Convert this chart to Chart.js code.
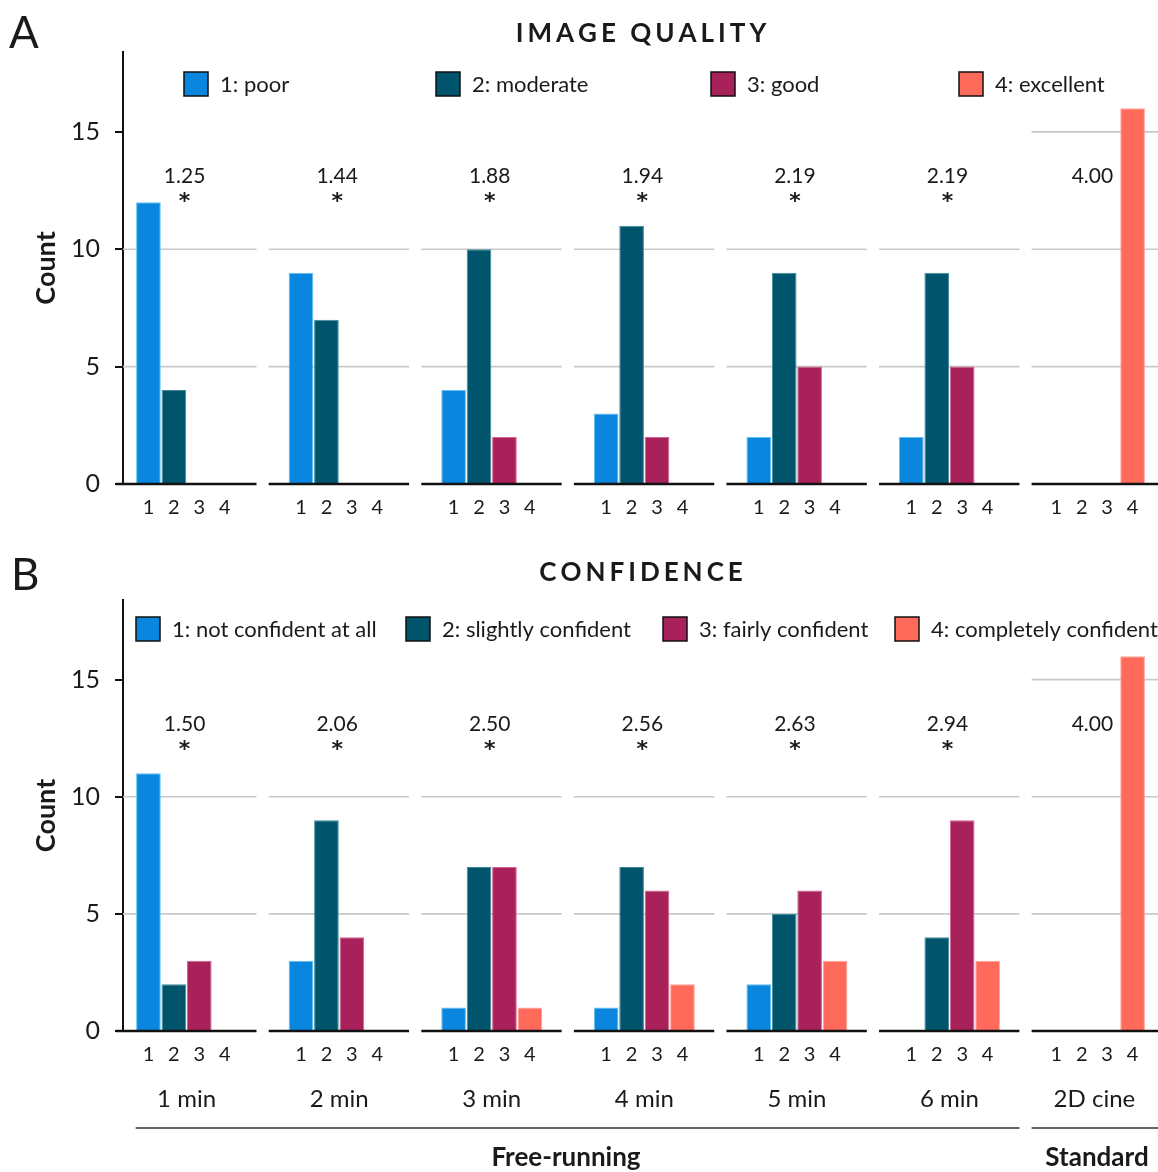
<!DOCTYPE html>
<html>
<head>
<meta charset="utf-8">
<script src="https://cdn.jsdelivr.net/npm/chart.js@4"></script>
<style>
  html, body { margin: 0; padding: 0; background: #fff; overflow: hidden; }
  canvas { position: absolute; left: 0; }
  #chartA { top: 0; }
  #chartB { top: 545px; }
</style>
</head>
<body>
<canvas id="chartA" width="1158" height="545"></canvas>
<canvas id="chartB" width="1158" height="627"></canvas>
<script>
// categories
const groups = ['1 min', '2 min', '3 min', '4 min', '5 min', '6 min', '2D cine'];
const ratingTicks = ['1', '2', '3', '4'];
const qualityLabels = ['1: poor', '2: moderate', '3: good', '4: excellent'];
const confidenceLabels = ['1: not confident at all', '2: slightly confident', '3: fairly confident', '4: completely confident'];

// image quality counts (per group)
const qualityPoor      = [12, 9, 4, 3, 2, 2, 0];
const qualityModerate  = [4, 7, 10, 11, 9, 9, 0];
const qualityGood      = [0, 0, 2, 2, 5, 5, 0];
const qualityExcellent = [0, 0, 0, 0, 0, 0, 16];
const qualityMeans     = ['1.25', '1.44', '1.88', '1.94', '2.19', '2.19', '4.00'];

// confidence counts (per group)
const confNone       = [11, 3, 1, 1, 2, 0, 0];
const confSlightly   = [2, 9, 7, 7, 5, 4, 0];
const confFairly     = [3, 4, 7, 6, 6, 9, 0];
const confCompletely = [0, 0, 1, 2, 3, 3, 16];
const confMeans      = ['1.50', '2.06', '2.50', '2.56', '2.63', '2.94', '4.00'];

const significant = [true, true, true, true, true, true, false];
const yTicks = [0, 5, 10, 15];

const colors = ['#0a86de', '#00546c', '#a8215a', '#ff6a5b'];
const edges  = ['#5fc2f2', '#3d8a9c', '#d0648d', '#ffa397'];
const FONT = 'Lato, "Open Sans", sans-serif';
const INK = '#1a1a1a';

// layout helpers (x in slot units, one slot per bar)
const barX = (g, r) => 6 * g + r + 1 + (g === 6 ? -0.3 : 0);
const groupCenter = g => 6 * g + 2.5 + (g === 6 ? -0.3 : 0);
const segStart = g => 6 * g - 0.27;
const segEnd = g => 6 * g + 5.25;
const tickPositions = [];
groups.forEach((_, g) => ratingTicks.forEach((_, r) => tickPositions.push(barX(g, r))));

function spacedText(ctx, text, cx, y, spacing) {
  const chars = [...text];
  const widths = chars.map(c => ctx.measureText(c).width);
  const total = widths.reduce((a, b) => a + b, 0) + spacing * (chars.length - 1);
  let x = cx - total / 2;
  ctx.textAlign = 'left';
  chars.forEach((c, i) => { ctx.fillText(c, x, y); x += widths[i] + spacing; });
}

function decorPlugin(p) {
  return {
    id: 'decor',
    beforeDatasetsDraw(chart) {
      const { ctx } = chart;
      const x = chart.scales.x, y = chart.scales.y;
      ctx.save();
      ctx.strokeStyle = '#c9c9c9';
      ctx.lineWidth = 1.6;
      groups.forEach((_, g) => {
        const lines = g === groups.length - 1 ? [5, 10, 15] : [5, 10];
        const x0 = g === 0 ? x.getPixelForValue(0) : x.getPixelForValue(segStart(g));
        const x1 = x.getPixelForValue(segEnd(g));
        lines.forEach(v => {
          const py = y.getPixelForValue(v);
          ctx.beginPath(); ctx.moveTo(x0, py); ctx.lineTo(x1, py); ctx.stroke();
        });
      });
      ctx.restore();
    },
    afterDatasetsDraw(chart) {
      const { ctx } = chart;
      const x = chart.scales.x, y = chart.scales.y;
      ctx.save();
      ctx.strokeStyle = '#111';
      ctx.lineWidth = 2.5;
      const py = y.getPixelForValue(0);
      groups.forEach((_, g) => {
        ctx.beginPath();
        ctx.moveTo(x.getPixelForValue(segStart(g)), py);
        ctx.lineTo(x.getPixelForValue(segEnd(g)), py);
        ctx.stroke();
      });
      ctx.restore();
    },
    afterDraw(chart) {
      const { ctx } = chart;
      const x = chart.scales.x, y = chart.scales.y;
      ctx.save();
      ctx.fillStyle = INK;
      // means and significance
      ctx.textAlign = 'center';
      ctx.textBaseline = 'middle';
      groups.forEach((_, g) => {
        const cx = x.getPixelForValue(groupCenter(g)) - 2;
        ctx.font = '21px ' + FONT;
        ctx.fillText(p.means[g], cx, y.getPixelForValue(13.1));
        if (significant[g]) {
          ctx.font = 'bold 22px "DejaVu Sans", sans-serif';
          ctx.fillText('*', cx, y.getPixelForValue(12.15) + 4);
        }
      });
      // panel letter
      ctx.textAlign = 'left';
      ctx.textBaseline = 'alphabetic';
      ctx.font = '44px ' + FONT;
      ctx.fillText(p.letter, p.letterX, p.letterY);
      // title
      ctx.font = 'bold 26px ' + FONT;
      spacedText(ctx, p.title, 641, p.titleY, 4);
      // legend
      ctx.textBaseline = 'middle';
      ctx.font = '22px ' + FONT;
      p.legend.forEach((label, r) => {
        const lx = p.legendX[r];
        ctx.fillStyle = colors[r];
        ctx.fillRect(lx, p.legendY - 12, 24, 24);
        ctx.strokeStyle = '#111';
        ctx.lineWidth = 1.5;
        ctx.strokeRect(lx, p.legendY - 12, 24, 24);
        ctx.fillStyle = INK;
        ctx.textAlign = 'left';
        ctx.fillText(label, lx + 36, p.legendY + 1);
      });
      // group labels and brackets (bottom panel only)
      if (p.groupLabels) {
        ctx.textAlign = 'center';
        ctx.font = '24px ' + FONT;
        groups.forEach((name, g) => {
          ctx.fillText(name, x.getPixelForValue(groupCenter(g)), p.groupLabelY);
        });
        ctx.strokeStyle = '#333';
        ctx.lineWidth = 1.5;
        const by = p.bracketY;
        ctx.beginPath();
        ctx.moveTo(x.getPixelForValue(0.5), by); ctx.lineTo(x.getPixelForValue(segEnd(5)), by);
        ctx.moveTo(x.getPixelForValue(segStart(6)), by); ctx.lineTo(x.getPixelForValue(segEnd(6)), by);
        ctx.stroke();
        ctx.font = 'bold 26px ' + FONT;
        ctx.fillText('Free-running', 566, p.bracketLabelY);
        ctx.fillText('Standard', 1097, p.bracketLabelY);
      }
      ctx.restore();
    }
  };
}

function makePanel(id, p) {
  const series = p.series;
  return new Chart(document.getElementById(id), {
    type: 'bar',
    data: {
      datasets: series.map((vals, r) => ({
        label: p.legend[r],
        data: vals.map((v, g) => ({ x: barX(g, r), y: v })),
        backgroundColor: colors[r],
        borderColor: edges[r],
        borderWidth: 1,
        borderSkipped: 'bottom',
        grouped: false,
        barPercentage: 0.97,
        categoryPercentage: 1
      }))
    },
    options: {
      responsive: false,
      animation: false,
      layout: { padding: { top: p.top, left: 0, right: 0, bottom: 0 } },
      plugins: { legend: { display: false }, tooltip: { enabled: false } },
      scales: {
        x: {
          type: 'linear',
          offset: false,
          min: 0,
          max: 40.7,
          grid: { display: false },
          border: { display: false },
          afterBuildTicks: axis => { axis.ticks = tickPositions.map(v => ({ value: v })); },
          afterFit: axis => { axis.height = p.xHeight; },
          ticks: {
            autoSkip: false,
            maxRotation: 0,
            padding: 4,
            color: INK,
            font: { family: FONT, size: 20 },
            callback: (v, i) => ratingTicks[i % 4]
          }
        },
        y: {
          min: 0,
          max: 18.4,
          afterFit: axis => { axis.width = 123; },
          afterBuildTicks: axis => { axis.ticks = yTicks.map(v => ({ value: v })); },
          grid: { drawOnChartArea: false, drawTicks: true, tickLength: 8, color: '#111', lineWidth: 2 },
          border: { display: true, color: '#111', width: 2 },
          ticks: { padding: 15, color: INK, font: { family: FONT, size: 25 } },
          title: {
            display: true,
            text: 'Count',
            color: INK,
            font: { family: FONT, size: 27, weight: 'bold' },
            padding: { top: 30, bottom: 0 }
          }
        }
      }
    },
    plugins: [decorPlugin(p)]
  });
}

makePanel('chartA', {
  series: [qualityPoor, qualityModerate, qualityGood, qualityExcellent],
  means: qualityMeans,
  legend: qualityLabels,
  legendX: [184, 436, 711, 959],
  legendY: 84,
  title: 'IMAGE QUALITY',
  titleY: 42,
  letter: 'A',
  letterX: 9,
  letterY: 48,
  top: 52,
  xHeight: 61
});

makePanel('chartB', {
  series: [confNone, confSlightly, confFairly, confCompletely],
  means: confMeans,
  legend: confidenceLabels,
  legendX: [136, 406, 663, 895],
  legendY: 84,
  title: 'CONFIDENCE',
  titleY: 36,
  letter: 'B',
  letterX: 11,
  letterY: 45,
  top: 55,
  xHeight: 141,
  groupLabels: true,
  groupLabelY: 554,
  bracketY: 583,
  bracketLabelY: 613
});
</script>
</body>
</html>
